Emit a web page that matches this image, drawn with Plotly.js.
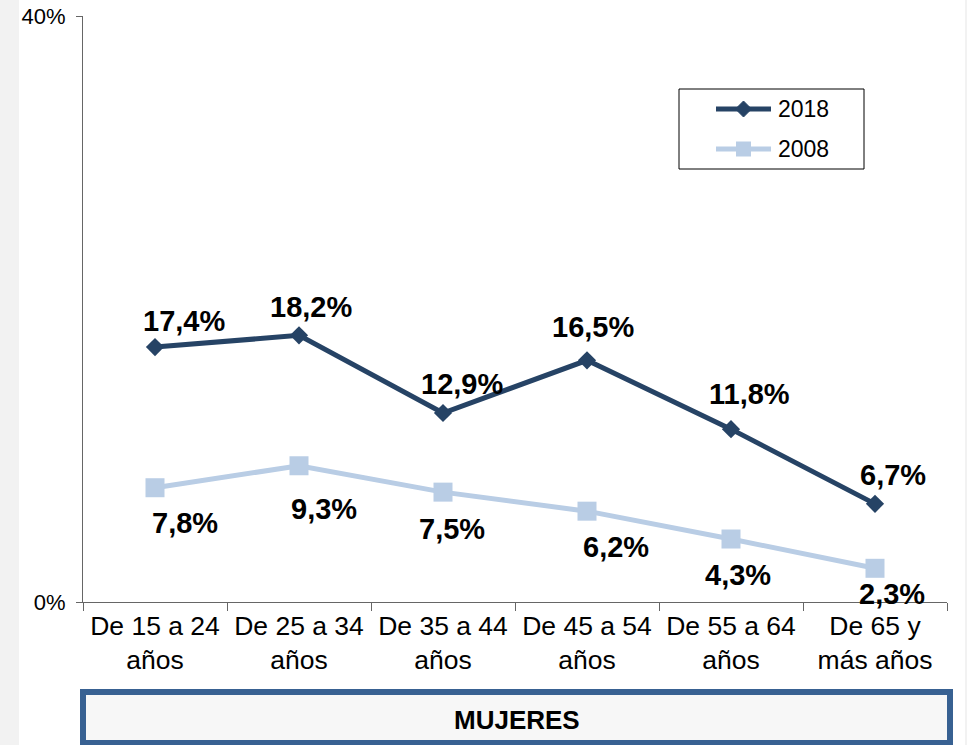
<!DOCTYPE html>
<html>
<head>
<meta charset="utf-8">
<script src="https://cdn.plot.ly/plotly-3.0.1.min.js"></script>
<style>
html, body { margin: 0; padding: 0; background: #f2f2f2; width: 967px; height: 745px; overflow: hidden; }
#chart { position: absolute; left: 19px; top: 0; width: 946px; height: 745px; background: #ffffff; }
</style>
</head>
<body>
<div id="chart"></div>
<script>
// ---- data ----
const categories = ["De 15 a 24<br>años", "De 25 a 34<br>años", "De 35 a 44<br>años", "De 45 a 54<br>años", "De 55 a 64<br>años", "De 65 y<br>más años"];
const values2018 = [17.4, 18.2, 12.9, 16.5, 11.8, 6.7];
const values2008 = [7.8, 9.3, 7.5, 6.2, 4.3, 2.3];
const seriesNames = ["2018", "2008"];
const yTickVals = [0, 40];
const yTickText = ["0%", "40%"];
const panelTitle = "MUJERES";

// ---- label offsets (pixels, styling) ----
const dx2018 = [29, 12, 19, 6, 18, 18];
const dy2018 = [26, 28, 29, 33, 35, 29];
const dx2008 = [30, 25, 9, 29, 7, 17];
const dy2008 = [-35, -43, -37, -36, -36, -26];

const navy = "#264365";
const light = "#b9cde5";
const FONT = "Liberation Sans, Arial, Helvetica, sans-serif";

// page-pixel -> paper helpers (plot area: x 83..947, y 16..602 in page pixels)
const PX = x => (x - 83) / 864;
const PY = y => (602 - y) / 586;

const fmt = v => v.toFixed(1).replace(".", ",") + "%";

const traces = [
  {
    x: categories, y: values2018, name: seriesNames[0], type: "scatter", mode: "lines+markers",
    line: { color: navy, width: 5 },
    marker: { symbol: "diamond", size: 14, color: navy },
    showlegend: false, hoverinfo: "skip"
  },
  {
    x: categories, y: values2008, name: seriesNames[1], type: "scatter", mode: "lines+markers",
    line: { color: light, width: 5 },
    marker: { symbol: "square", size: 19, color: light },
    showlegend: false, hoverinfo: "skip"
  }
];

const annotations = [];
categories.forEach((c, i) => {
  annotations.push({ x: c, y: values2018[i], xref: "x", yref: "y", text: fmt(values2018[i]), showarrow: false,
    xshift: dx2018[i], yshift: dy2018[i], font: { family: FONT, size: 29, color: "#000", weight: "bold" } });
  annotations.push({ x: c, y: values2008[i], xref: "x", yref: "y", text: fmt(values2008[i]), showarrow: false,
    xshift: dx2008[i], yshift: dy2008[i], font: { family: FONT, size: 29, color: "#000", weight: "bold" } });
});
// legend texts
annotations.push({ x: PX(776), y: PY(109), xref: "paper", yref: "paper", text: seriesNames[0], showarrow: false,
  xanchor: "left", yanchor: "middle", font: { family: FONT, size: 23, color: "#000" } });
annotations.push({ x: PX(776), y: PY(149), xref: "paper", yref: "paper", text: seriesNames[1], showarrow: false,
  xanchor: "left", yanchor: "middle", font: { family: FONT, size: 23, color: "#000" } });
// panel title
annotations.push({ x: PX(517), y: PY(720), xref: "paper", yref: "paper", text: "<b>" + panelTitle + "</b>", showarrow: false,
  xanchor: "center", yanchor: "middle", font: { family: FONT, size: 26, color: "#000" } });

const dcx = 743.5, dcy = 109, dh = 8;
const shapes = [
  // bottom panel box
  { type: "rect", xref: "paper", yref: "paper", x0: PX(83), x1: PX(950), y0: PY(743), y1: PY(692),
    line: { color: "#386192", width: 6 }, fillcolor: "#f7f7f7", layer: "above" },
  // legend box
  { type: "rect", xref: "paper", yref: "paper", x0: PX(679), x1: PX(864), y0: PY(169), y1: PY(89),
    line: { color: "#000", width: 1 }, fillcolor: "#fff", layer: "above" },
  { type: "line", xref: "paper", yref: "paper", x0: PX(716), x1: PX(771), y0: PY(109), y1: PY(109),
    line: { color: navy, width: 5 }, layer: "above" },
  { type: "path", xref: "paper", yref: "paper",
    path: `M ${PX(dcx - dh)},${PY(dcy)} L ${PX(dcx)},${PY(dcy - dh)} L ${PX(dcx + dh)},${PY(dcy)} L ${PX(dcx)},${PY(dcy + dh)} Z`,
    line: { color: navy, width: 1 }, fillcolor: navy, layer: "above" },
  { type: "line", xref: "paper", yref: "paper", x0: PX(716), x1: PX(771), y0: PY(149), y1: PY(149),
    line: { color: light, width: 5 }, layer: "above" },
  { type: "rect", xref: "paper", yref: "paper", x0: PX(736), x1: PX(751), y0: PY(156.5), y1: PY(141.5),
    line: { color: light, width: 0 }, fillcolor: light, layer: "above" }
];

const layout = {
  width: 946, height: 745,
  margin: { l: 64, r: 18, t: 16, b: 143, pad: 0 },
  paper_bgcolor: "#ffffff", plot_bgcolor: "#ffffff",
  showlegend: false,
  font: { family: FONT, color: "#000" },
  xaxis: {
    type: "category", range: [-0.5, 5.5], tickson: "boundaries",
    ticks: "outside", ticklen: 8, tickcolor: "#666", tickwidth: 1,
    showline: true, linecolor: "#666", linewidth: 1, showgrid: false, zeroline: false,
    tickfont: { family: FONT, size: 26.5, color: "#000" }, fixedrange: true
  },
  yaxis: {
    range: [0, 40], tickvals: yTickVals, ticktext: yTickText,
    ticks: "outside", ticklen: 6, tickcolor: "#666", tickwidth: 1, ticklabelstandoff: 6,
    showline: true, linecolor: "#666", linewidth: 1, showgrid: false, zeroline: false,
    tickfont: { family: FONT, size: 22, color: "#000" }, fixedrange: true
  },
  annotations: annotations,
  shapes: shapes
};

Plotly.newPlot("chart", traces, layout, { displayModeBar: false, staticPlot: true });
</script>
</body>
</html>
